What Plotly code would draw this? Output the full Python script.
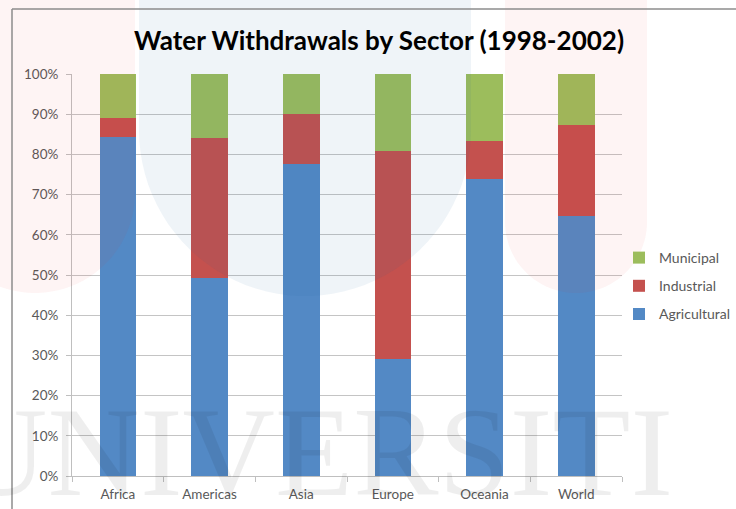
import numpy as np
import plotly.graph_objects as go

# Regional share of water withdrawals by sector (%)
regions = ["Africa", "Americas", "Asia", "Europe", "Oceania", "World"]
agricultural = [84.4, 49.3, 77.5, 29.0, 74.0, 64.7]
industrial = [4.7, 34.9, 12.6, 51.8, 9.4, 22.6]
municipal = [10.9, 15.8, 9.9, 19.2, 16.6, 12.7]

y_ticks = [0, 10, 20, 30, 40, 50, 60, 70, 80, 90, 100]
y_tick_text = [f"{v}%" for v in y_ticks]

C_AGR = "#5389C5"
C_IND = "#C4514E"
C_MUN = "#9CBD5C"

W, H = 736, 509
ML, MR, MT, MB = 72, 114, 74, 33
PW, PH = W - ML - MR, H - MT - MB


def px(x):
    return (x - ML) / PW


def py(y):
    return (H - MB - y) / PH


def capsule(x0, x1, y_top, y_bottom):
    """Closed path: rectangle with a rounded bottom, given in pixels, returned in paper units."""
    r = (x1 - x0) / 2
    cx = (x0 + x1) / 2
    cy = y_bottom - r
    t = np.linspace(np.pi, 0, 48)
    pts = [(x0, y_top), (x0, cy)]
    pts += [(cx + r * np.cos(a), cy + r * np.sin(a)) for a in t]
    pts += [(x1, cy), (x1, y_top)]
    return "M " + " L ".join(f"{px(a):.4f},{py(b):.4f}" for a, b in pts) + " Z"


fig = go.Figure()
fig.add_trace(go.Bar(name="Agricultural", x=regions, y=agricultural, legendrank=3,
                     marker=dict(color=C_AGR, line=dict(width=0)), legendgroup="a"))
fig.add_trace(go.Bar(name="Industrial", x=regions, y=industrial, legendrank=2,
                     marker=dict(color=C_IND, line=dict(width=0)), legendgroup="b"))
fig.add_trace(go.Bar(name="Municipal", x=regions, y=municipal, legendrank=1,
                     marker=dict(color=C_MUN, line=dict(width=0)), legendgroup="c"))

shapes = [
    # soft background emblem
    dict(type="path", xref="paper", yref="paper", layer="above",
         path=capsule(-65, 135, -20, 293),
         fillcolor="rgba(235,40,40,0.05)", line=dict(width=0)),
    dict(type="path", xref="paper", yref="paper", layer="above",
         path=capsule(139, 471, -20, 296),
         fillcolor="rgba(30,100,160,0.07)", line=dict(width=0)),
    dict(type="path", xref="paper", yref="paper", layer="above",
         path=capsule(505, 647, -20, 293),
         fillcolor="rgba(235,40,40,0.05)", line=dict(width=0)),
    # chart frame
    dict(type="line", xref="paper", yref="paper", x0=px(12), x1=px(740), y0=py(9), y1=py(9),
         line=dict(color="#8C8C8C", width=1.5)),
    dict(type="line", xref="paper", yref="paper", x0=px(12), x1=px(12), y0=py(9), y1=py(512),
         line=dict(color="#8C8C8C", width=1.5)),
]

annotations = [
    dict(text="UNIVERSITI", xref="paper", yref="paper", x=px(314), y=py(452),
         xanchor="center", yanchor="middle", showarrow=False,
         font=dict(family="Liberation Serif, serif", size=128, color="rgba(0,0,0,0.065)")),
]

fig.update_layout(
    width=W, height=H,
    margin=dict(l=ML, r=MR, t=MT, b=MB, pad=0, autoexpand=False),
    paper_bgcolor="white", plot_bgcolor="rgba(0,0,0,0)",
    barmode="stack", bargap=0.6,
    title=dict(text="<b>Water Withdrawals by Sector (1998-2002)</b>",
               x=379 / W, xref="container", xanchor="center",
               y=1 - 41 / H, yref="container", yanchor="middle",
               font=dict(family="Lato, sans-serif", size=26, color="#000000")),
    font=dict(family="Lato, sans-serif", color="#595959"),
    showlegend=True,
    legend=dict(traceorder="grouped", xref="container", yref="container",
                x=619 / W, xanchor="left", y=1 - 242 / H, yanchor="top",
                tracegroupgap=7, font=dict(size=14, color="#595959"),
                bgcolor="rgba(0,0,0,0)"),
    shapes=shapes,
    annotations=annotations,
)

fig.update_yaxes(range=[0, 100], tickvals=y_ticks, ticktext=y_tick_text,
                 showgrid=True, gridcolor="#C4C4C4", gridwidth=1,
                 showline=True, linecolor="#BFBFBF", linewidth=1,
                 ticks="outside", ticklen=5, tickcolor="#BFBFBF", ticklabelstandoff=5,
                 tickfont=dict(size=13.5, color="#595959"), zeroline=False)
fig.update_xaxes(showline=True, linecolor="#BFBFBF", linewidth=1,
                 ticks="outside", ticklen=5, tickcolor="#BFBFBF", tickson="boundaries",
                 ticklabelstandoff=6,
                 tickfont=dict(size=13.5, color="#595959"), showgrid=False)

fig.write_html("out.html")
